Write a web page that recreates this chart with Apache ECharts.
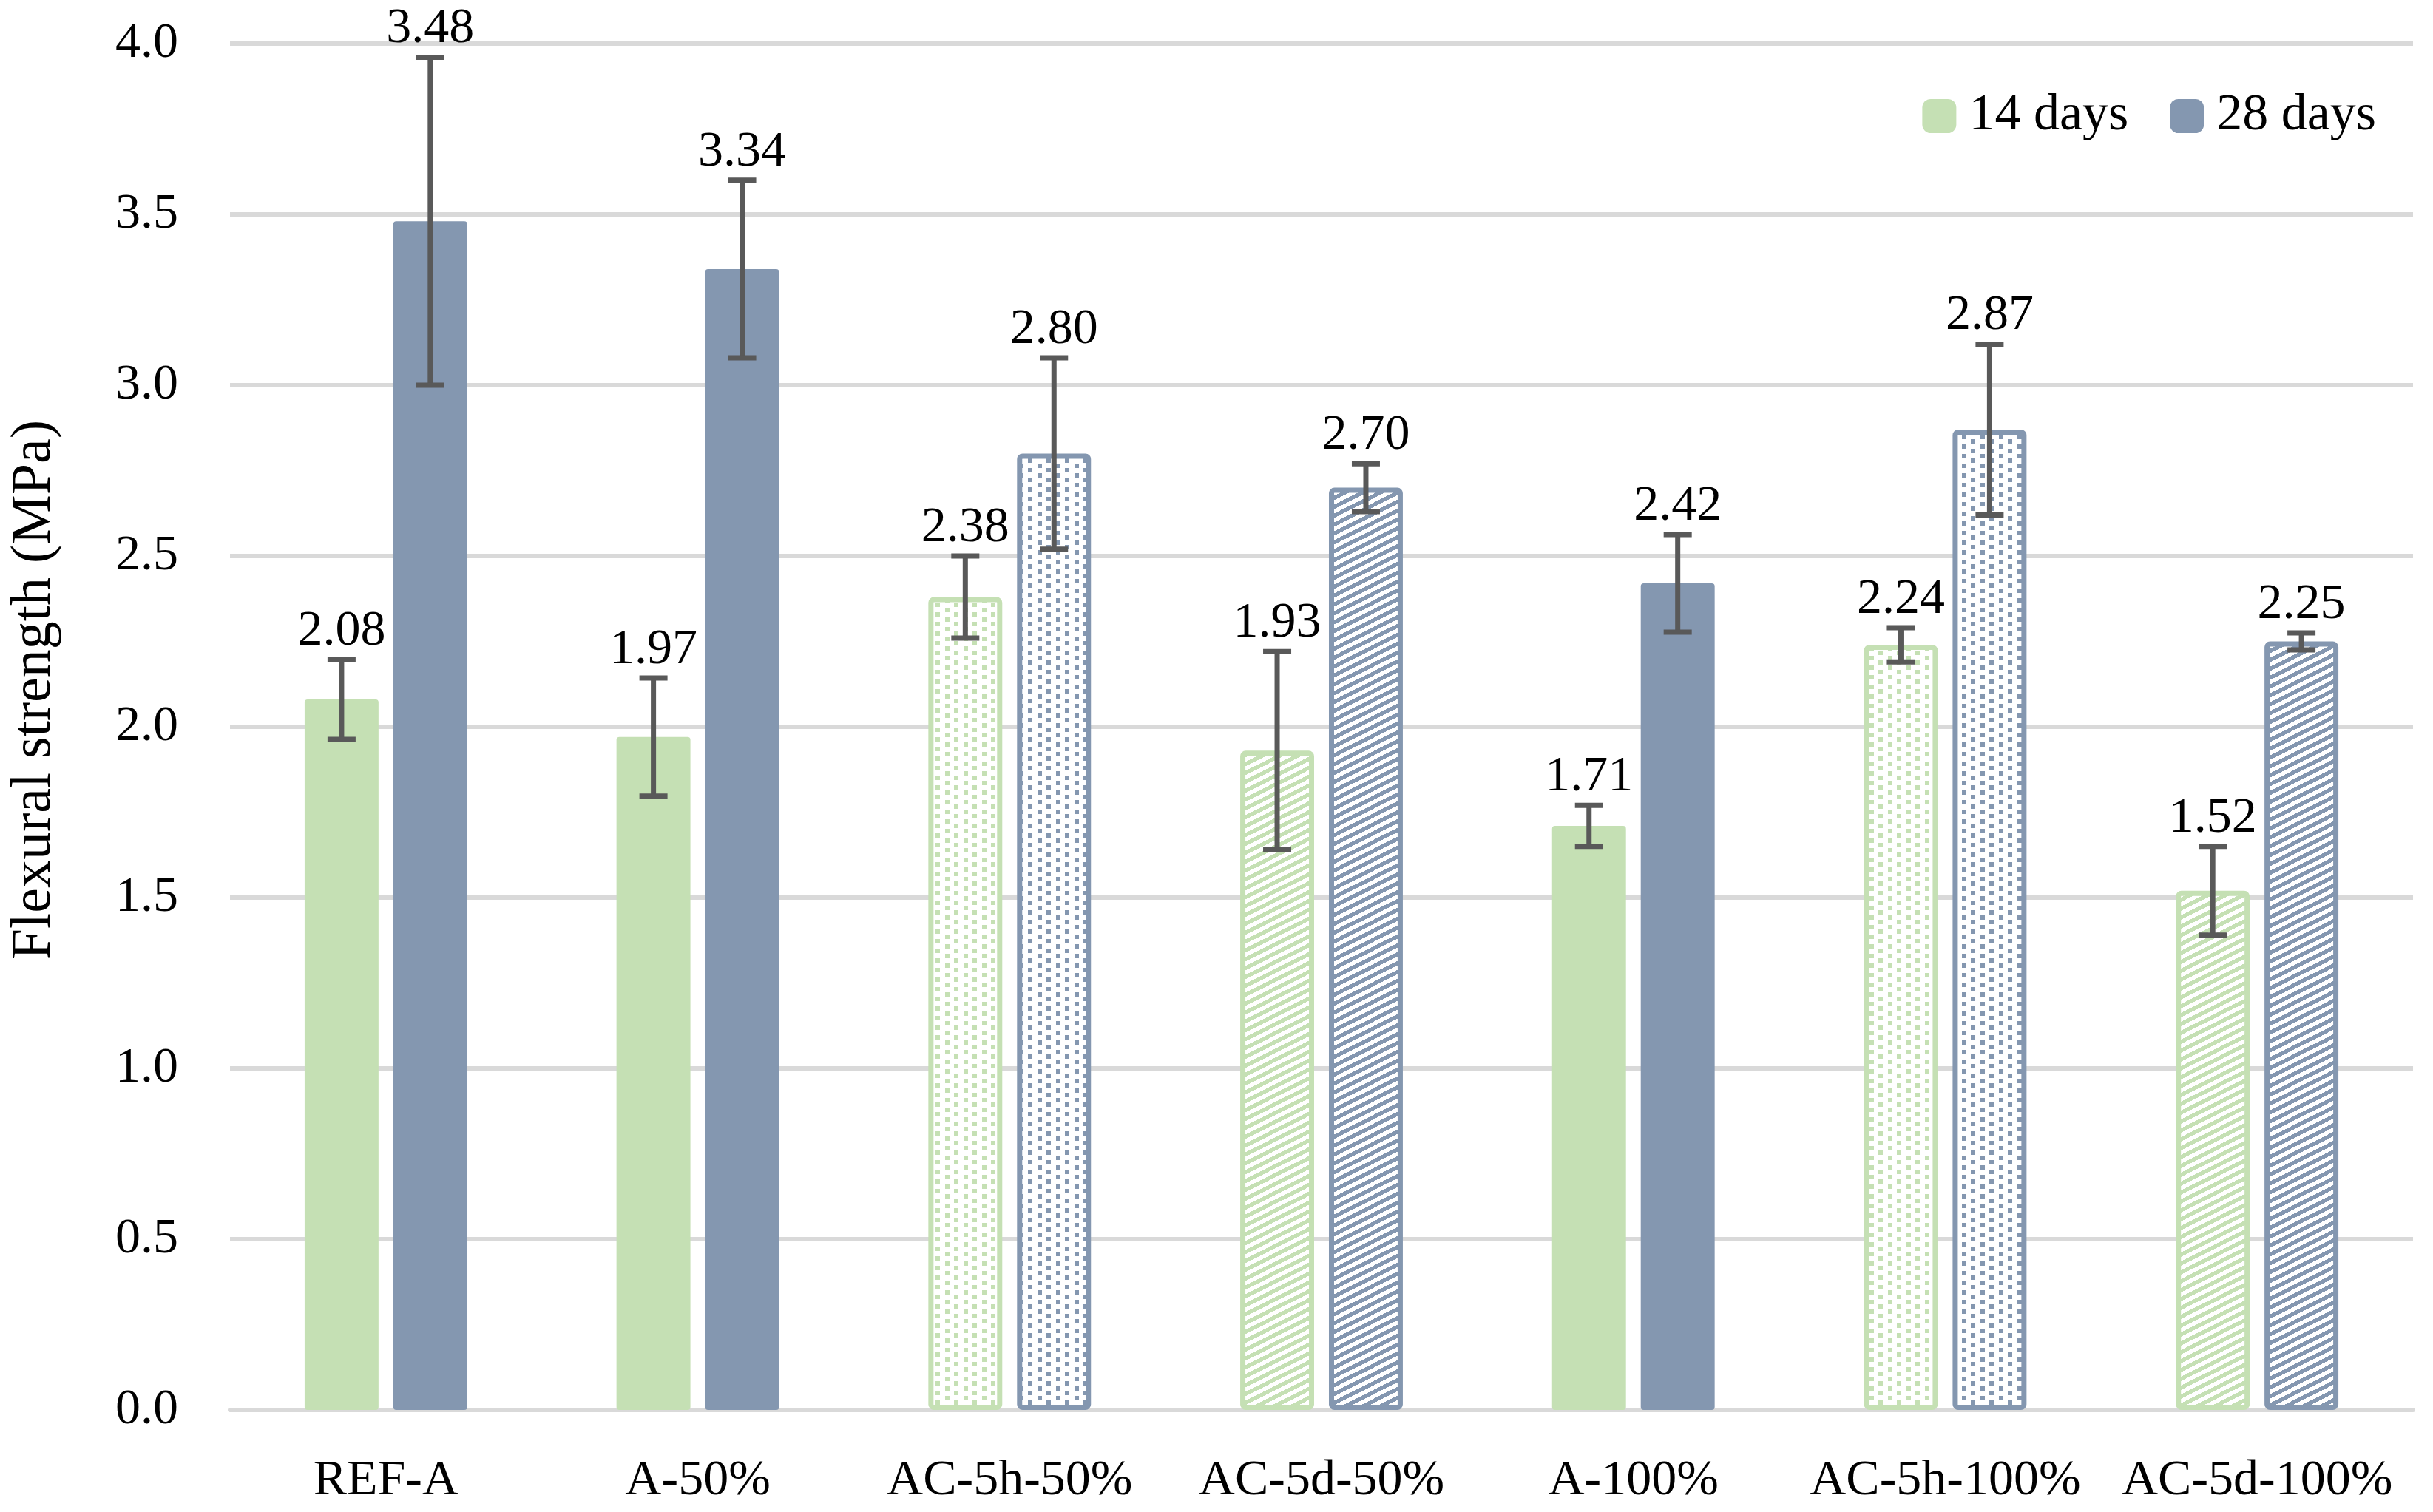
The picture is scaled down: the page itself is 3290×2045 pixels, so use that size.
<!DOCTYPE html>
<html>
<head>
<meta charset="utf-8">
<script src="https://cdn.jsdelivr.net/npm/echarts@6/dist/echarts.min.js"></script>
<style>
html,body{margin:0;padding:0;background:#fff;}
#chart{width:3290px;height:2045px;}
</style>
</head>
<body>
<div id="chart"></div>
<script>
var categories = ['REF-A', 'A-50%', 'AC-5h-50%', 'AC-5d-50%', 'A-100%', 'AC-5h-100%', 'AC-5d-100%'];
var days14 = [2.08, 1.97, 2.38, 1.93, 1.71, 2.24, 1.52];
var days28 = [3.48, 3.34, 2.80, 2.70, 2.42, 2.87, 2.25];
var err14 = [0.117, 0.173, 0.12, 0.29, 0.06, 0.05, 0.13];
var err28 = [0.48, 0.26, 0.28, 0.07, 0.143, 0.25, 0.025];
var fills = ['solid', 'solid', 'dots', 'diag', 'solid', 'dots', 'diag'];
var yTicks = { min: 0, max: 4, interval: 0.5 };
var seriesNames = ['14 days', '28 days'];

var GREEN = '#C5E0B4', BLUE = '#8497B0', GRID = '#D9D9D9', ERR = '#595959';
var FONT = 'Liberation Serif';
var BAR_W = 0.237;

function dotPattern(color) {
  var c = document.createElement('canvas');
  c.width = 25; c.height = 13;
  var ctx = c.getContext('2d');
  ctx.fillStyle = '#fff'; ctx.fillRect(0, 0, 25, 13);
  ctx.fillStyle = color;
  ctx.fillRect(3, 3, 6, 6);
  ctx.fillRect(15, 9, 6, 4);
  ctx.fillRect(15, 0, 6, 2);
  return c;
}
function diagPattern(color) {
  var c = document.createElement('canvas');
  var w = 24, h = 12;
  c.width = w; c.height = h;
  var ctx = c.getContext('2d');
  ctx.fillStyle = '#fff'; ctx.fillRect(0, 0, w, h);
  ctx.fillStyle = color;
  for (var y = 0; y < h; y++) {
    for (var x = 0; x < w; x++) {
      if (((x + 2 * y) % 24) < 12) ctx.fillRect(x, y, 1, 1);
    }
  }
  return c;
}

function itemsFor(values, color) {
  var dots = dotPattern(color), diag = diagPattern(color);
  return values.map(function (v, i) {
    if (fills[i] === 'solid') return { value: v };
    return {
      value: v,
      itemStyle: {
        color: { image: fills[i] === 'dots' ? dots : diag, repeat: 'repeat' },
        borderColor: color,
        borderWidth: 7
      }
    };
  });
}

function errData(values, errs) {
  return values.map(function (v, i) { return [i, v, errs[i]]; });
}

function makeRenderer(sign) {
  return function (params, api) {
    var x = api.value(0), m = api.value(1), e = api.value(2);
    var c = api.coord([x, m]);
    var band = api.size([1, 0])[0];
    var barW = band * BAR_W;
    var cx = c[0] + sign * barW * 0.6;
    var top = api.coord([x, m + e])[1];
    var bot = api.coord([x, m - e])[1];
    var cap = 19;
    var ls = { stroke: ERR, lineWidth: 7 };
    return {
      type: 'group',
      children: [
        { type: 'line', shape: { x1: cx, y1: top, x2: cx, y2: bot }, style: ls },
        { type: 'line', shape: { x1: cx - cap, y1: top, x2: cx + cap, y2: top }, style: ls },
        { type: 'line', shape: { x1: cx - cap, y1: bot, x2: cx + cap, y2: bot }, style: ls },
        { type: 'text', style: { text: m.toFixed(2), x: cx, y: top - 4, align: 'center', verticalAlign: 'bottom',
          fontFamily: FONT, fontSize: 68, fill: '#000' } }
      ]
    };
  };
}

var chart = echarts.init(document.getElementById('chart'), null, { renderer: 'canvas' });
chart.setOption({
  backgroundColor: '#fff',
  animation: false,
  grid: { left: 311, right: 27, top: 59, bottom: 138, containLabel: false },
  legend: {
    data: seriesNames,
    right: 72,
    top: 117,
    icon: 'roundRect',
    itemWidth: 46,
    itemHeight: 46,
    itemGap: 56,
    textStyle: { fontFamily: FONT, fontSize: 70, color: '#000', padding: [0, 0, 0, 12] }
  },
  xAxis: {
    type: 'category',
    data: categories,
    axisTick: { show: false },
    axisLine: { lineStyle: { color: GRID, width: 6 } },
    axisLabel: { fontFamily: FONT, fontSize: 68, color: '#000', margin: 62, interval: 0 }
  },
  yAxis: {
    type: 'value',
    min: yTicks.min,
    max: yTicks.max,
    interval: yTicks.interval,
    name: 'Flexural strength (MPa)',
    nameLocation: 'middle',
    nameGap: 226,
    nameTextStyle: { fontFamily: FONT, fontSize: 76, color: '#000', padding: [0, 0, 0, 100] },
    axisLine: { show: false },
    axisTick: { show: false },
    splitLine: { lineStyle: { color: GRID, width: 6 } },
    axisLabel: {
      fontFamily: FONT, fontSize: 68, color: '#000', margin: 70,
      formatter: function (v) { return v.toFixed(1); }
    }
  },
  series: [
    {
      name: seriesNames[0], type: 'bar', barWidth: (BAR_W * 100) + '%', barGap: '20%',
      itemStyle: { color: GREEN, borderRadius: 4 },
      data: itemsFor(days14, GREEN), z: 2
    },
    {
      name: seriesNames[1], type: 'bar', barWidth: (BAR_W * 100) + '%', barGap: '20%',
      itemStyle: { color: BLUE, borderRadius: 4 },
      data: itemsFor(days28, BLUE), z: 2
    },
    {
      type: 'custom', renderItem: makeRenderer(-1), data: errData(days14, err14),
      encode: { x: 0, y: 1 }, z: 5, silent: true
    },
    {
      type: 'custom', renderItem: makeRenderer(1), data: errData(days28, err28),
      encode: { x: 0, y: 1 }, z: 5, silent: true
    }
  ]
});
</script>
</body>
</html>
